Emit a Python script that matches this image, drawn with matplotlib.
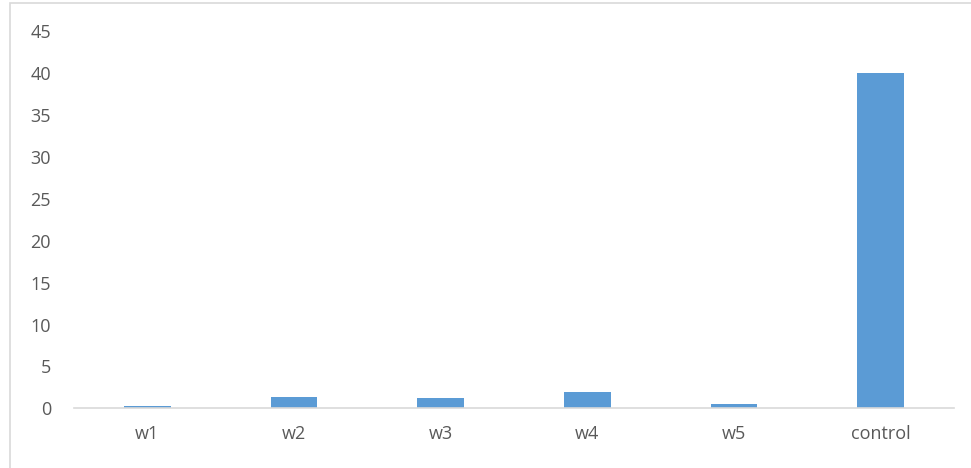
import numpy as np
import matplotlib.pyplot as plt
from matplotlib.patches import Rectangle

# values per sample
categories = ["w1", "w2", "w3", "w4", "w5", "control"]
values = [0.3, 1.4, 1.2, 1.9, 0.5, 40]

bar_color = "#5b9bd5"
text_color = "#595959"

plt.rcParams['font.family'] = ['Open Sans', 'DejaVu Sans']

fig = plt.figure(figsize=(9.71, 4.68), dpi=100)
ax = fig.add_axes([74/971, 1 - 408.3/468, (954 - 74)/971, (408.3 - 31.3)/468])

x = np.arange(len(categories))
ax.bar(x, values, width=0.32, color=bar_color, zorder=2)

ax.set_xlim(-0.5, len(categories) - 0.5)
ax.set_ylim(0, 45)
ax.set_yticks(np.arange(0, 46, 5))
ax.set_xticks(x)
ax.set_xticklabels(categories)

for s in ["top", "right", "left"]:
    ax.spines[s].set_visible(False)
ax.spines["bottom"].set_color("#d9d9d9")
ax.spines["bottom"].set_linewidth(1.2)

ax.tick_params(axis="both", length=0, labelsize=13, colors=text_color)
ax.tick_params(axis="y", pad=16.5)
ax.tick_params(axis="x", pad=12)

# chart area frame
fig.patches.append(Rectangle((10/971, -0.1), 1.1, 1 - 3.5/468 + 0.1,
                             transform=fig.transFigure, fill=False,
                             edgecolor="#d9d9d9", linewidth=1.2))

plt.savefig("out.png", dpi=100)
